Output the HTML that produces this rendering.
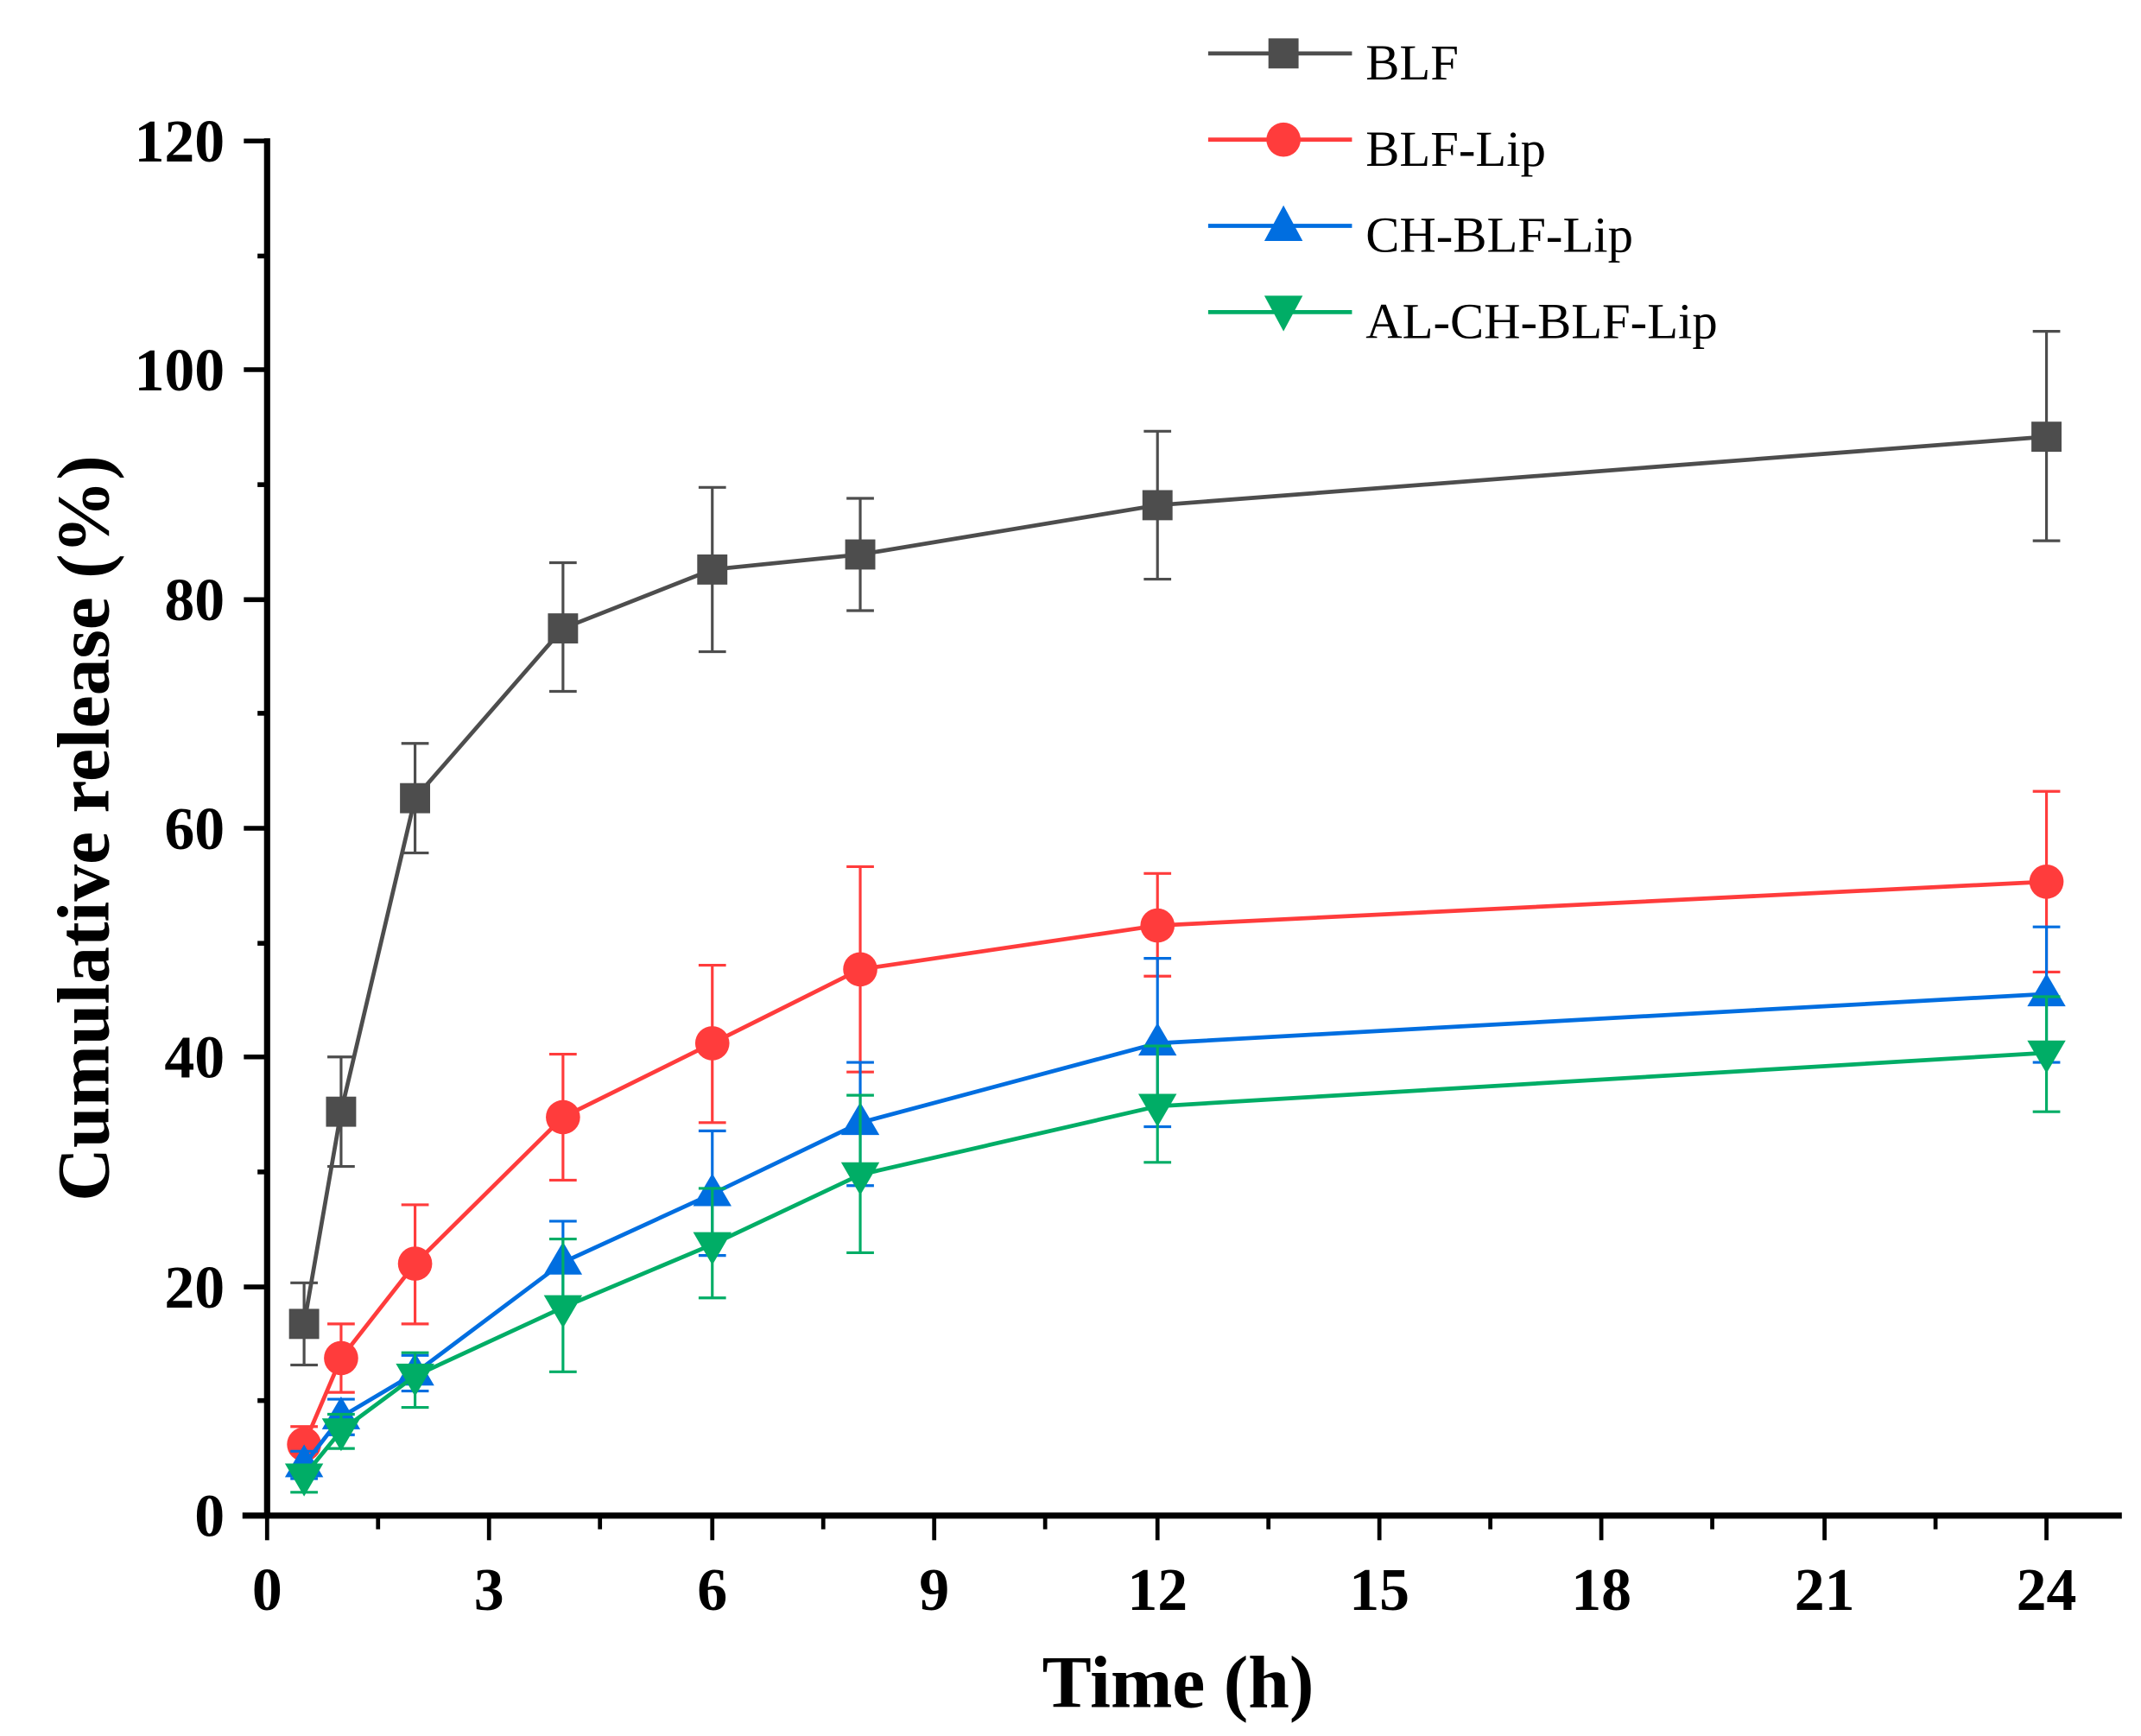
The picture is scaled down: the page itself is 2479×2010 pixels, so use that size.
<!DOCTYPE html>
<html><head><meta charset="utf-8"><style>
html,body{margin:0;padding:0;background:#fff;}
svg{display:block;}
text{font-family:"Liberation Serif","Times New Roman",serif;}
</style></head><body>
<svg width="2479" height="2010" viewBox="0 0 1563 1268" preserveAspectRatio="none" xmlns="http://www.w3.org/2000/svg">
<rect width="1563" height="1268" fill="#fff"/>
<!-- axes -->
<g stroke="#000" fill="none">
<line x1="195" y1="101" x2="195" y2="1109" stroke-width="4.5"/>
<line x1="177" y1="1107" x2="1549" y2="1107" stroke-width="4.5"/>
<g stroke-width="3.5">
<line x1="178" y1="103" x2="195" y2="103"/><line x1="178" y1="270" x2="195" y2="270"/>
<line x1="178" y1="438" x2="195" y2="438"/><line x1="178" y1="605" x2="195" y2="605"/>
<line x1="178" y1="772" x2="195" y2="772"/><line x1="178" y1="940" x2="195" y2="940"/>
<line x1="188" y1="187" x2="195" y2="187"/><line x1="188" y1="354" x2="195" y2="354"/>
<line x1="188" y1="521" x2="195" y2="521"/><line x1="188" y1="689" x2="195" y2="689"/>
<line x1="188" y1="856" x2="195" y2="856"/><line x1="188" y1="1023" x2="195" y2="1023"/>
</g>
<g stroke-width="3">
<line x1="195" y1="1107" x2="195" y2="1125"/><line x1="357" y1="1107" x2="357" y2="1125"/>
<line x1="520" y1="1107" x2="520" y2="1125"/><line x1="682" y1="1107" x2="682" y2="1125"/>
<line x1="845" y1="1107" x2="845" y2="1125"/><line x1="1007" y1="1107" x2="1007" y2="1125"/>
<line x1="1169" y1="1107" x2="1169" y2="1125"/><line x1="1332" y1="1107" x2="1332" y2="1125"/>
<line x1="1494" y1="1107" x2="1494" y2="1125"/>
<line x1="276" y1="1107" x2="276" y2="1117"/><line x1="438" y1="1107" x2="438" y2="1117"/>
<line x1="601" y1="1107" x2="601" y2="1117"/><line x1="763" y1="1107" x2="763" y2="1117"/>
<line x1="926" y1="1107" x2="926" y2="1117"/><line x1="1088" y1="1107" x2="1088" y2="1117"/>
<line x1="1250" y1="1107" x2="1250" y2="1117"/><line x1="1413" y1="1107" x2="1413" y2="1117"/>
</g>
</g>
<!-- tick labels -->
<g font-size="44" font-weight="bold" text-anchor="end" fill="#000">
<text x="164" y="118">120</text><text x="164" y="285">100</text><text x="164" y="453">80</text>
<text x="164" y="620">60</text><text x="164" y="787">40</text><text x="164" y="955">20</text>
<text x="164" y="1122">0</text>
</g>
<g font-size="44" font-weight="bold" text-anchor="middle" fill="#000">
<text x="195" y="1176">0</text><text x="357" y="1176">3</text><text x="520" y="1176">6</text>
<text x="682" y="1176">9</text><text x="845" y="1176">12</text><text x="1007" y="1176">15</text>
<text x="1169" y="1176">18</text><text x="1332" y="1176">21</text><text x="1494" y="1176">24</text>
</g>
<text x="860" y="1247" font-size="54" font-weight="bold" text-anchor="middle">Time (h)</text>
<text transform="translate(79,605) rotate(-90)" font-size="54" font-weight="bold" text-anchor="middle">Cumulative release (%)</text>

<!-- BLF -->
<g stroke="#4d4d4d" fill="#4d4d4d">
<polyline fill="none" stroke-width="3" points="222,967 249,812 303,583 411,459 520,416 628,405 845,369 1494,319"/>
<g stroke-width="2">
<path d="M222,937V997M212,937H232M212,997H232"/>
<path d="M249,772V852M239,772H259M239,852H259"/>
<path d="M303,543V623M293,543H313M293,623H313"/>
<path d="M411,411V505M401,411H421M401,505H421"/>
<path d="M520,356V476M510,356H530M510,476H530"/>
<path d="M628,364V446M618,364H638M618,446H638"/>
<path d="M845,315V423M835,315H855M835,423H855"/>
<path d="M1494,242V395M1484,242H1504M1484,395H1504"/>
</g>
<g stroke="none">
<rect x="211" y="956" width="22" height="22"/><rect x="238" y="801" width="22" height="22"/>
<rect x="292" y="572" width="22" height="22"/><rect x="400" y="448" width="22" height="22"/>
<rect x="509" y="405" width="22" height="22"/><rect x="617" y="394" width="22" height="22"/>
<rect x="834" y="358" width="22" height="22"/><rect x="1483" y="308" width="22" height="22"/>
</g>
</g>
<!-- BLF-Lip -->
<g stroke="#ff3c3c" fill="#ff3c3c">
<polyline fill="none" stroke-width="3" points="222,1055 249,992 303,923 411,816 520,762 628,708 845,676 1494,644"/>
<g stroke-width="2">
<path d="M222,1042V1070M212,1042H232M212,1070H232"/>
<path d="M249,967V1017M239,967H259M239,1017H259"/>
<path d="M303,880V967M293,880H313M293,967H313"/>
<path d="M411,770V862M401,770H421M401,862H421"/>
<path d="M520,705V820M510,705H530M510,820H530"/>
<path d="M628,633V783M618,633H638M618,783H638"/>
<path d="M845,638V713M835,638H855M835,713H855"/>
<path d="M1494,578V710M1484,578H1504M1484,710H1504"/>
</g>
<g stroke="none">
<circle cx="222" cy="1055" r="12.5"/><circle cx="249" cy="992" r="12.5"/><circle cx="303" cy="923" r="12.5"/>
<circle cx="411" cy="816" r="12.5"/><circle cx="520" cy="762" r="12.5"/><circle cx="628" cy="708" r="12.5"/>
<circle cx="845" cy="676" r="12.5"/><circle cx="1494" cy="644" r="12.5"/>
</g>
</g>
<!-- CH-BLF-Lip -->
<g stroke="#006ee0" fill="#006ee0">
<polyline fill="none" stroke-width="3" points="222,1070 249,1035 303,1003 411,922 520,872 628,820 845,762 1494,726"/>
<g stroke-width="2">
<path d="M222,1060V1080M212,1060H232M212,1080H232"/>
<path d="M249,1022V1048M239,1022H259M239,1048H259"/>
<path d="M303,990V1016M293,990H313M293,1016H313"/>
<path d="M411,892V952M401,892H421M401,952H421"/>
<path d="M520,826V917M510,826H530M510,917H530"/>
<path d="M628,776V866M618,776H638M618,866H638"/>
<path d="M845,700V823M835,700H855M835,823H855"/>
<path d="M1494,677V776M1484,677H1504M1484,776H1504"/>
</g>
<g stroke="none">
<path d="M222,1055l14,24h-28z"/><path d="M249,1020l14,24h-28z"/><path d="M303,988l14,24h-28z"/>
<path d="M411,907l14,24h-28z"/><path d="M520,857l14,24h-28z"/><path d="M628,805l14,24h-28z"/>
<path d="M845,747l14,24h-28z"/><path d="M1494,711l14,24h-28z"/>
</g>
</g>
<!-- AL-CH-BLF-Lip -->
<g stroke="#00ad66" fill="#00ad66">
<polyline fill="none" stroke-width="3" points="222,1078 249,1045 303,1005 411,955 520,909 628,858 845,808 1494,769"/>
<g stroke-width="2">
<path d="M222,1070V1090M212,1070H232M212,1090H232"/>
<path d="M249,1033V1058M239,1033H259M239,1058H259"/>
<path d="M303,988V1028M293,988H313M293,1028H313"/>
<path d="M411,905V1002M401,905H421M401,1002H421"/>
<path d="M520,868V948M510,868H530M510,948H530"/>
<path d="M628,800V915M618,800H638M618,915H638"/>
<path d="M845,764V849M835,764H855M835,849H855"/>
<path d="M1494,728V812M1484,728H1504M1484,812H1504"/>
</g>
<g stroke="none">
<path d="M222,1093l14,-24h-28z"/><path d="M249,1060l14,-24h-28z"/><path d="M303,1020l14,-24h-28z"/>
<path d="M411,970l14,-24h-28z"/><path d="M520,924l14,-24h-28z"/><path d="M628,873l14,-24h-28z"/>
<path d="M845,823l14,-24h-28z"/><path d="M1494,784l14,-24h-28z"/>
</g>
</g>
<!-- legend -->
<g stroke-width="3">
<line x1="882" y1="39" x2="987" y2="39" stroke="#4d4d4d"/>
<rect x="926" y="28" width="22" height="22" fill="#4d4d4d"/>
<line x1="882" y1="102" x2="987" y2="102" stroke="#ff3c3c"/>
<circle cx="937" cy="102" r="12.5" fill="#ff3c3c"/>
<line x1="882" y1="165" x2="987" y2="165" stroke="#006ee0"/>
<path d="M937,150l14,26h-28z" fill="#006ee0"/>
<line x1="882" y1="228" x2="987" y2="228" stroke="#00ad66"/>
<path d="M937,242l14,-26h-28z" fill="#00ad66"/>
</g>
<g font-size="37" fill="#000">
<text x="997" y="58">BLF</text><text x="997" y="121">BLF-Lip</text>
<text x="997" y="184">CH-BLF-Lip</text><text x="997" y="247">AL-CH-BLF-Lip</text>
</g>
</svg>
</body></html>
